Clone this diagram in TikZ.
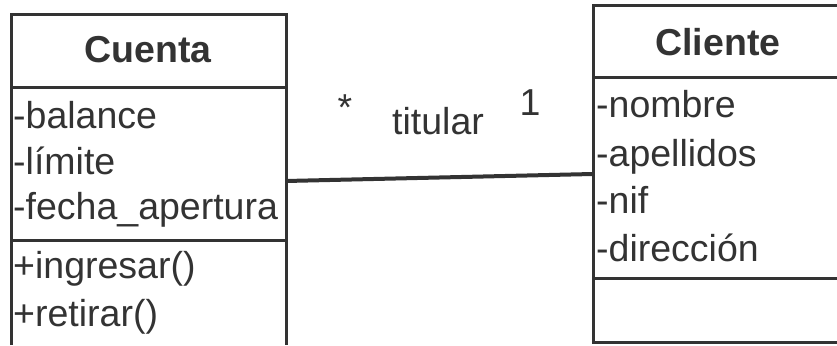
\documentclass[tikz,border=0pt]{standalone}
\usepackage{fontspec}
\setmainfont{Liberation Sans}
\definecolor{ink}{HTML}{333333}
\begin{document}
\begin{tikzpicture}[x=1pt,y=1pt,
  boxline/.style={draw=ink,line width=3pt},
  txt/.style={inner sep=0pt,anchor=base west,text=ink,font=\fontsize{37.5}{45}\selectfont},
  ttl/.style={inner sep=0pt,anchor=base,text=ink,font=\fontsize{37.5}{45}\selectfont\bfseries},
  lbl/.style={inner sep=0pt,anchor=base,text=ink,font=\fontsize{37.5}{45}\selectfont}]
\useasboundingbox (0,0) rectangle (837,345);
% Cuenta box (open at bottom)
\draw[boxline] (11,0) -- (11,330) -- (286,330) -- (286,0);
\draw[boxline] (11,257) -- (286,257);
\draw[boxline] (11,104) -- (286,104);
\node[ttl] (cuenta) at (148,282) {Cuenta};
\node[txt] (a1) at (13,216) {-balance};
\node[txt] (a2) at (13,170) {-límite};
\node[txt] (a3) at (13,125) {-fecha\_apertura};
\node[txt] (m1) at (13,66) {+ingresar()};
\node[txt] (m2) at (13,19) {+retirar()};
% Cliente box (open at right)
\draw[boxline] (838,339) -- (593,339) -- (593,3) -- (838,3);
\draw[boxline] (593,267) -- (838,267);
\draw[boxline] (593,66) -- (838,66);
\node[ttl] (cliente) at (718,289) {Cliente};
\node[txt] (b1) at (596,227) {-nombre};
\node[txt] (b2) at (596,178) {-apellidos};
\node[txt] (b3) at (596,131) {-nif};
\node[txt] (b4) at (596,83) {-dirección};
% association
\coordinate (cuentaR) at (286,164);
\coordinate (clienteL) at (593,171);
\draw[draw=ink,line width=4pt] (cuentaR) -- (clienteL);
\node[lbl] (star) at (345,224) {*};
\node[lbl] (tit) at (438,210) {titular};
\node[lbl] (one) at (530,229) {1};
\end{tikzpicture}
\end{document}
